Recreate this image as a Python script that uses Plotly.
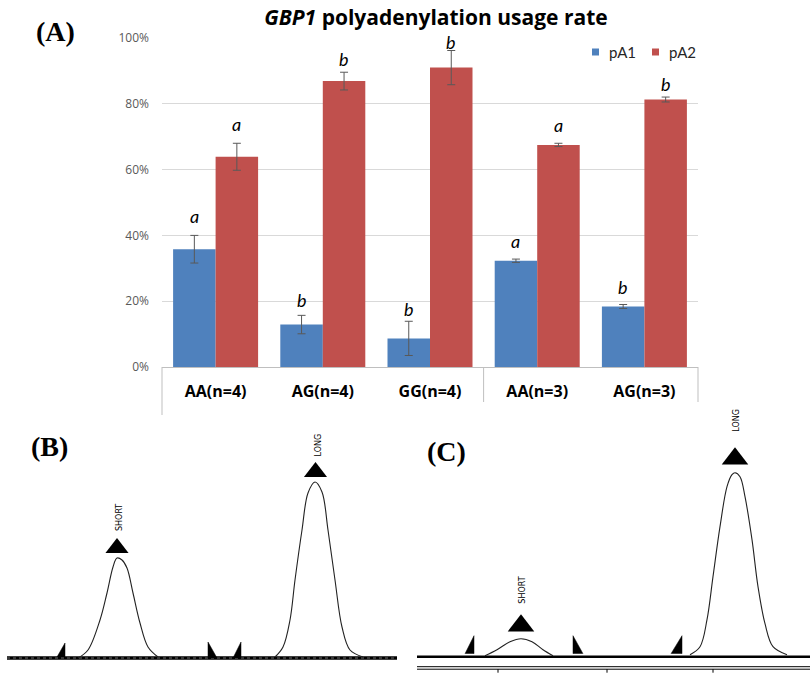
import plotly.graph_objects as go

# ---------------- Panel A data ----------------
categories = ["AA(n=4)", "AG(n=4)", "GG(n=4)", "AA(n=3)", "AG(n=3)"]
series_names = ["pA1", "pA2"]
pA1 = [35.8, 12.9, 8.7, 32.3, 18.4]
pA1_err = [4.2, 2.8, 5.2, 0.5, 0.6]
pA2 = [63.9, 86.9, 91.0, 67.5, 81.3]
pA2_err = [4.1, 2.7, 5.2, 0.5, 0.75]
pA1_letters = ["a", "b", "b", "a", "b"]
pA2_letters = ["a", "b", "b", "a", "b"]
# height (in %) where each significance letter sits
pA1_letter_at = [43.4, 17.8, 15.3, 35.9, 21.9]
pA2_letter_at = [71.5, 91.3, 96.2, 71.1, 83.7]
y_ticks = [0, 20, 40, 60, 80, 100]
y_tick_labels = ["0%", "20%", "40%", "60%", "80%", "100%"]

# ---------------- Panel B data (electropherogram, signal above baseline) ----------------
B_short_x = [78, 88, 100, 107, 113, 117, 122, 127, 133, 140, 148, 158]
B_short_y = [0, 8, 38, 65, 91, 100, 98, 90, 65, 35, 11, 1]
B_long_x = [275, 283, 290, 295, 302, 308, 315, 322, 328, 335, 342, 350, 363]
B_long_y = [1, 11, 38, 78, 128, 165, 176, 166, 128, 78, 31, 8, 1]
B_base_x = [7, 397]
B_base_y = [0, 0]
B_peak_marks_x = [117, 315.5]
B_peak_marks_y = [110, 186]
B_labels = ["SHORT", "LONG"]
B_label_y = [140, 213]
B_flags = [
    ([57, 65, 65], [1, 15, 1]),
    ([208, 208, 217], [0, 16, 0]),
    ([233, 241, 241], [0, 16, 0]),
]

# ---------------- Panel C data ----------------
C_short_x = [85, 97, 110, 121, 132, 143, 153]
C_short_y = [1, 7, 15, 18, 15, 7, 1]
C_long_x = [290, 300, 307, 313, 320, 327, 332, 335, 340, 345, 352, 358, 365, 373, 387]
C_long_y = [2, 10, 37, 80, 130, 170, 182, 184, 180, 160, 117, 70, 33, 10, 2]
C_base_x = [17, 410]
C_base_y = [0, 0]
C_base2_y = [-10, -10]
C_ticks_x = [98, 207, 313]
C_peak_marks_x = [121, 335]
C_peak_marks_y = [31, 198]
C_labels = ["SHORT", "LONG"]
C_label_y = [66, 236]
C_flags = [
    ([65, 74, 74], [3, 21, 3]),
    ([173, 173, 183], [3, 21, 3]),
    ([271, 282, 282], [3, 21, 3]),
]

BLUE = "#4f81bd"
RED = "#c0504d"
FONT = "Open Sans"

fig = go.Figure()

# Bars
fig.add_trace(go.Bar(
    x=categories, y=pA1, name=series_names[0], marker=dict(color=BLUE, line=dict(width=0)),
    error_y=dict(type="data", array=pA1_err, color="#595959", thickness=1, width=4),
    showlegend=False, xaxis="x", yaxis="y"))
fig.add_trace(go.Bar(
    x=categories, y=pA2, name=series_names[1], marker=dict(color=RED, line=dict(width=0)),
    error_y=dict(type="data", array=pA2_err, color="#595959", thickness=1, width=4),
    showlegend=False, xaxis="x", yaxis="y"))

annotations = []
for letters, pos, shift in ((pA1_letters, pA1_letter_at, -21.3), (pA2_letters, pA2_letter_at, 21.3)):
    for c, l, p in zip(categories, letters, pos):
        annotations.append(dict(x=c, y=p, xref="x", yref="y", text="<i>%s</i>" % l,
                                showarrow=False, xshift=shift, yshift=-5, yanchor="bottom",
                                font=dict(family="Lato", size=18, color="black")))

LINE = "#222222"


def add_panel(xa, ya, short_x, short_y, long_x, long_y, marks_x, marks_y, labels, label_y, flags, msize):
    fig.add_trace(go.Scatter(x=short_x, y=short_y, mode="lines", line=dict(color=LINE, width=1.1, shape="spline"),
                             showlegend=False, xaxis=xa, yaxis=ya, hoverinfo="skip"))
    fig.add_trace(go.Scatter(x=long_x, y=long_y, mode="lines", line=dict(color=LINE, width=1.1, shape="spline"),
                             showlegend=False, xaxis=xa, yaxis=ya, hoverinfo="skip"))
    fig.add_trace(go.Scatter(x=marks_x, y=marks_y, mode="markers",
                             marker=dict(symbol="triangle-up", size=msize, color="black"),
                             showlegend=False, xaxis=xa, yaxis=ya, hoverinfo="skip"))
    for fx, fy in flags:
        fig.add_trace(go.Scatter(x=fx, y=fy, mode="lines", fill="toself", fillcolor="black",
                                 line=dict(color="black", width=0.5), showlegend=False,
                                 xaxis=xa, yaxis=ya, hoverinfo="skip"))
    for mx, lab, ly in zip(marks_x, labels, label_y):
        annotations.append(dict(x=mx, y=ly, xref=xa, yref=ya, text=lab, showarrow=False, textangle=-90,
                                xshift=2, font=dict(family="DejaVu Sans", size=8, color="black")))


# Panel B
fig.add_trace(go.Scatter(x=B_base_x, y=B_base_y, mode="lines", line=dict(color="black", width=3.5),
                         showlegend=False, xaxis="x2", yaxis="y2", hoverinfo="skip"))
fig.add_trace(go.Scatter(x=B_base_x, y=B_base_y, mode="lines", line=dict(color="#bbbbbb", width=0.6, dash="dot"),
                         showlegend=False, xaxis="x2", yaxis="y2", hoverinfo="skip"))
add_panel("x2", "y2", B_short_x, B_short_y, B_long_x, B_long_y, B_peak_marks_x, B_peak_marks_y,
          B_labels, B_label_y, B_flags, 20)

# Panel C
fig.add_trace(go.Scatter(x=C_base_x, y=C_base_y, mode="lines", line=dict(color="black", width=2.5),
                         showlegend=False, xaxis="x3", yaxis="y3", hoverinfo="skip"))
fig.add_trace(go.Scatter(x=C_base_x, y=C_base2_y, mode="lines", line=dict(color="black", width=1),
                         showlegend=False, xaxis="x3", yaxis="y3", hoverinfo="skip"))
fig.add_trace(go.Scatter(x=C_base_x, y=[v - 2.5 for v in C_base2_y], mode="lines", line=dict(color="black", width=1),
                         showlegend=False, xaxis="x3", yaxis="y3", hoverinfo="skip"))
tx, ty = [], []
for t in C_ticks_x:
    tx += [t, t, None]
    ty += [C_base2_y[0] - 2.5, C_base2_y[0] - 6, None]
fig.add_trace(go.Scatter(x=tx, y=ty, mode="lines", line=dict(color="black", width=1),
                         showlegend=False, xaxis="x3", yaxis="y3", hoverinfo="skip"))
add_panel("x3", "y3", C_short_x, C_short_y, C_long_x, C_long_y, C_peak_marks_x, C_peak_marks_y,
          C_labels, C_label_y, C_flags, 23)

W, H = 810, 675


def px(v):
    return v / W


def py(v):
    return 1 - v / H


# Panel labels
for txt, cx, cy in (("(A)", 55, 31), ("(B)", 49, 446), ("(C)", 447, 451)):
    annotations.append(dict(x=px(cx), y=py(cy), xref="paper", yref="paper", text="<b>%s</b>" % txt,
                            xanchor="center", yanchor="middle",
                            showarrow=False, font=dict(family="Liberation Serif", size=28, color="black")))

shapes = [
    dict(type="line", xref="x domain", yref="paper", x0=0, x1=0, y0=py(367), y1=py(415),
         line=dict(color="#bfbfbf", width=1)),
    dict(type="line", xref="x", yref="paper", x0=2.5, x1=2.5, y0=py(367), y1=py(402),
         line=dict(color="#bfbfbf", width=1)),
    dict(type="line", xref="x domain", yref="paper", x0=1, x1=1, y0=py(367), y1=py(402),
         line=dict(color="#bfbfbf", width=1)),
]

# Legend (drawn as key squares + labels to match the compact spreadsheet legend)
for nm, col, sx in zip(series_names, (BLUE, RED), (592, 652)):
    shapes.append(dict(type="rect", xref="paper", yref="paper", x0=px(sx), x1=px(sx + 7),
                       y0=py(55.5), y1=py(48.5), fillcolor=col, line=dict(width=0)))
    annotations.append(dict(x=px(sx + 15), y=py(52), xref="paper", yref="paper", text=nm,
                            xanchor="left", yanchor="middle", showarrow=False,
                            font=dict(family="Lato", size=15, color="#262626")))

hidden = dict(visible=False, automargin=False, fixedrange=True)

fig.update_layout(
    template="none", showlegend=False,
    width=W, height=H, margin=dict(l=0, r=0, t=0, b=0, pad=0, autoexpand=False),
    paper_bgcolor="white", plot_bgcolor="white",
    barmode="group", bargap=0.207, bargroupgap=0,
    title=dict(text="<b><i>GBP1</i> polyadenylation usage rate</b>", x=px(436), y=py(18),
               xref="paper", yref="paper",
               xanchor="center", yanchor="middle", font=dict(family=FONT, size=21, color="black")),
    xaxis=dict(domain=[px(162), px(698)], anchor="y", showline=True, linecolor="#bfbfbf", linewidth=1,
               ticks="", showgrid=False, ticklabelstandoff=10, automargin=False, zeroline=False,
               tickfont=dict(family=FONT, size=16, color="black", weight="bold")),
    yaxis=dict(domain=[py(367), py(38)], anchor="x", range=[0, 100], tickvals=y_ticks, ticktext=y_tick_labels,
               tickmode="array", showgrid=True, gridcolor="#d9d9d9", gridwidth=1, zeroline=False, showline=False,
               ticks="", automargin=False,
               ticklabelstandoff=12, tickfont=dict(family=FONT, size=12, color="#595959")),
    xaxis2=dict(domain=[0, px(400)], anchor="y2", range=[0, 400], **hidden),
    yaxis2=dict(domain=[0, py(420)], anchor="x2", range=[-17, 238], **hidden),
    xaxis3=dict(domain=[px(400), 1], anchor="y3", range=[0, 410], **hidden),
    yaxis3=dict(domain=[0, py(420)], anchor="x3", range=[-18.3, 236.7], **hidden),
    annotations=annotations, shapes=shapes,
)

fig.write_html("out.html")
